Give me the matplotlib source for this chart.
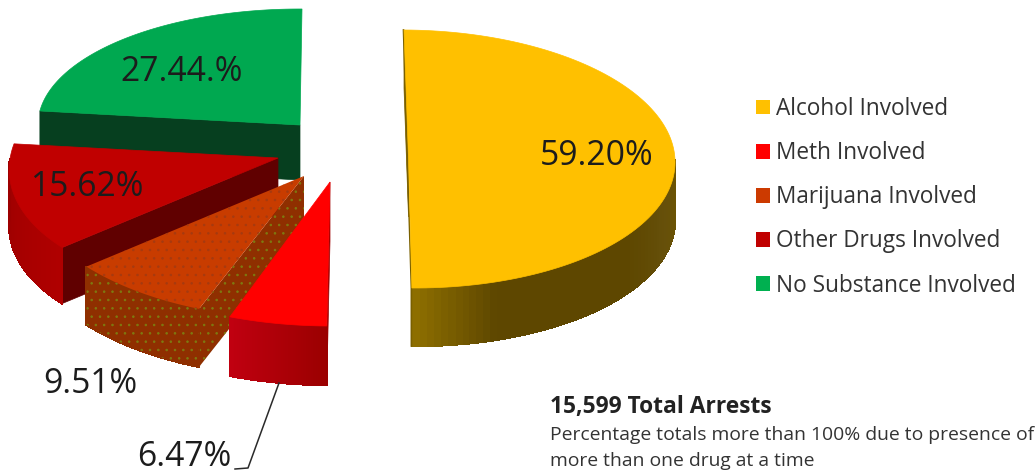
import numpy as np
import matplotlib
matplotlib.use("Agg")
import matplotlib.pyplot as plt
from matplotlib.patches import Polygon, Patch
from matplotlib.collections import PolyCollection
from matplotlib.colors import to_rgb

plt.rcParams['font.family'] = ['Open Sans', 'DejaVu Sans']
plt.rcParams['hatch.linewidth'] = 0.6

# ---- data ----
categories = ["Alcohol Involved", "Meth Involved", "Marijuana Involved",
              "Other Drugs Involved", "No Substance Involved"]
values = [59.20, 6.47, 9.51, 15.62, 27.44]
value_labels = ["59.20%", "6.47%", "9.51%", "15.62%", "27.44.%"]
total_note = "15,599 Total Arrests"
note_lines = ["Percentage totals more than 100% due to presence of",
              "more than one drug at a time"]

# ---- style / layout ----
top_colors = ["#FFC000", "#FF0000", "#C83C00", "#C00000", "#00A850"]
legend_colors = ["#FFC000", "#FF0000", "#CC3A00", "#C00000", "#00B050"]
cut_colors = ["#7A6000", "#A00000", "#8F2F00", "#600000", "#063F1F"]
# gradient along the outer rim, from the start angle to the end angle of each wedge
rim_colors = [["#6D5400", "#66500A", "#5E4700", "#5E4700", "#5E4700", "#8F7000"],
              ["#9A0000", "#C00010"],
              ["#8F2F00", "#8F2F00"],
              ["#B00000", "#9C0000"],
              ["#0B4F2A", "#0B4F2A"]]
# exploded apex position and perspective projection of each wedge (pixel axes)
apex_x = [408.5, 330, 304, 278, 300]
apex_y = [159, 182, 176, 158, 125]
radius_x = [266.5, 288, 280, 268, 262]
shear_x = [-4.5, 2, 10, 21, 2]
radius_y = [129, 144, 143, 135, 116]
shear_y = [1, 1.5, 4.5, -1, 1]
depths = [58, 59, 58, 56, 55]
draw_order = [4, 3, 2, 1, 0]
label_x = [597, 184, 90, 87, 182]
label_y = [156, 457, 384, 187, 72]

W, H = 1036, 474
fig = plt.figure(figsize=(W / 100, H / 100), dpi=100)
ax = fig.add_axes([0, 0, 1, 1])
ax.set_xlim(0, W)
ax.set_ylim(H, 0)
ax.axis('off')

shares = np.array(values) / np.sum(values) * 2 * np.pi
edges = np.concatenate([[0], np.cumsum(shares)])


def project(i, t):
    t = np.asarray(t)
    x = apex_x[i] + radius_x[i] * np.sin(t) + shear_x[i] * np.cos(t)
    y = apex_y[i] - radius_y[i] * np.cos(t) + shear_y[i] * np.sin(t)
    return x, y


def blend(stops, f):
    cs = np.array([to_rgb(c) for c in stops])
    p = np.linspace(0, 1, len(cs))
    return [np.interp(f, p, cs[:, k]) for k in range(3)]


z = 1
for i in draw_order:
    t0, t1 = edges[i], edges[i + 1]
    d = depths[i]
    hatched = i == 2
    cut_kw = dict(hatch='..', edgecolor='#7E7A10', linewidth=0) if hatched \
        else dict(edgecolor=cut_colors[i], linewidth=0.5)

    # cut face along the start ray
    cx, cy = project(i, t0)
    ax.add_patch(Polygon([(apex_x[i], apex_y[i]), (cx, cy), (cx, cy + d),
                          (apex_x[i], apex_y[i] + d)],
                         facecolor=cut_colors[i], zorder=z, **cut_kw))

    # outer rim: only the part of the arc facing the viewer
    a0, a1 = max(t0, np.pi / 2), min(t1, 3 * np.pi / 2)
    if a1 > a0:
        ts = np.linspace(a0, a1, 60)
        xs, ys = project(i, ts)
        quads, cols = [], []
        for k in range(len(ts) - 1):
            quads.append([(xs[k], ys[k]), (xs[k + 1], ys[k + 1]),
                          (xs[k + 1], ys[k + 1] + d), (xs[k], ys[k] + d)])
            cols.append(blend(rim_colors[i], (k + 0.5) / (len(ts) - 1)))
        ax.add_collection(PolyCollection(quads, facecolors=cols, edgecolors=cols,
                                         linewidths=1.0, antialiaseds=False, zorder=z))
        if hatched:
            outline = list(zip(xs, ys)) + list(zip(xs[::-1], ys[::-1] + d))
            ax.add_patch(Polygon(outline, facecolor='none', edgecolor='#7E7A10',
                                 hatch='..', linewidth=0, zorder=z))

    # alcohol wedge: thin visible cut along its straight edge
    if i == 0:
        ex0, ey0 = project(i, t0)
        ex1, ey1 = project(i, t1)
        ax.plot([ex0 - 0.5, ex1 - 0.5, ex1 - 0.5], [ey0, ey1, ey1 + d],
                color=cut_colors[i], lw=1.2, zorder=z)

    # top face
    ts = np.linspace(t0, t1, 120)
    xs, ys = project(i, ts)
    pts = [(apex_x[i], apex_y[i])] + list(zip(xs, ys))
    if hatched:
        ax.add_patch(Polygon(pts, facecolor=top_colors[i], edgecolor='#A63A10',
                             hatch='..', linewidth=0, zorder=z + 0.5))
    else:
        ax.add_patch(Polygon(pts, facecolor=top_colors[i], edgecolor=top_colors[i],
                             linewidth=0.5, zorder=z + 0.5))
    z += 1

# data labels
for txt, lx, ly in zip(value_labels, label_x, label_y):
    ax.text(lx, ly, txt, fontsize=24.2, color='#1C1C1C', ha='center', va='center', zorder=20)

# leader line for the smallest label
ax.plot([279, 248, 235], [383, 468, 469], color='#2A2A2A', lw=1.1, zorder=19)

# legend
handles = [Patch(facecolor=c, edgecolor='none') for c in legend_colors]
leg = ax.legend(handles, categories, loc='upper left', bbox_to_anchor=(756, 97),
                bbox_transform=ax.transData, frameon=False, fontsize=16.3,
                handlelength=0.62, handleheight=0.62, handletextpad=0.265,
                labelspacing=0.89, borderpad=0, borderaxespad=0, labelcolor='#333333')

# notes
ax.text(550, 407, total_note, fontsize=16.4, fontweight='bold', color='#222222',
        ha='left', va='center')
ax.text(550, 435, note_lines[0], fontsize=13.9, color='#333333', ha='left', va='center')
ax.text(550, 461, note_lines[1], fontsize=13.9, color='#333333', ha='left', va='center')

fig.savefig("out.png", dpi=100)
